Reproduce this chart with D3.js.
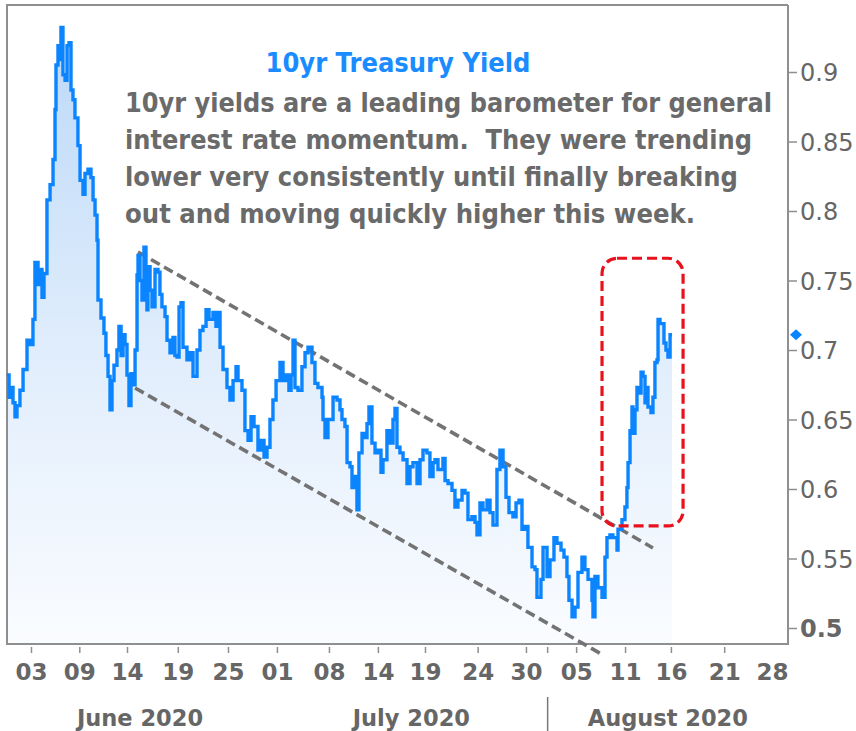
<!DOCTYPE html>
<html><head><meta charset="utf-8">
<script src="https://cdn.jsdelivr.net/npm/d3@7"></script>
<style>html,body{margin:0;padding:0;background:#fff;overflow:hidden}</style>
</head><body><svg id="chart" width="856" height="731"></svg>
<script>
// trading-session position (0 = June 1, 2020) and 10yr yield
const sessionDay=[0.06,0.23,0.39,0.55,0.71,0.87,1.11,1.36,1.68,1.92,2.16,2.32,2.57,2.73,2.89,3.05,3.29,3.54,3.78,3.94,4.02,4.18,4.34,4.42,4.58,4.75,4.91,5.07,5.23,5.39,5.55,5.79,5.96,6.20,6.36,6.60,6.84,7.01,7.17,7.33,7.41,7.65,7.89,8.05,8.22,8.38,8.54,8.70,8.94,9.10,9.27,9.43,9.59,9.75,9.91,10.07,10.23,10.40,10.56,10.64,10.80,10.96,11.12,11.28,11.36,11.44,11.61,11.77,12.01,12.25,12.41,12.57,12.82,12.98,13.22,13.46,13.62,13.79,13.95,14.11,14.27,14.59,14.83,15.08,15.40,15.64,15.88,16.13,16.37,16.69,16.93,17.09,17.26,17.50,17.82,18.06,18.31,18.55,18.71,19.03,19.27,19.52,19.76,20.00,20.32,20.56,20.81,21.05,21.29,21.53,21.78,22.10,22.34,22.58,22.82,22.99,23.15,23.31,23.55,23.87,24.12,24.36,24.68,24.92,25.16,25.49,25.57,25.73,25.97,26.30,26.38,26.70,26.94,27.10,27.34,27.51,27.75,27.91,28.15,28.31,28.47,28.72,28.96,29.12,29.28,29.52,29.77,30.01,30.25,30.41,30.73,30.98,31.22,31.38,31.54,31.78,32.03,32.35,32.59,32.83,33.16,33.40,33.64,33.96,34.20,34.45,34.61,34.85,35.25,35.42,35.66,35.98,36.22,36.46,36.79,37.03,37.27,37.59,37.84,38.00,38.24,38.48,38.81,39.05,39.29,39.61,39.85,40.10,40.34,40.58,40.90,41.15,41.39,41.63,41.87,42.11,42.44,42.68,42.84,43.16,43.33,43.65,43.89,44.21,44.45,44.78,45.02,45.26,45.42,45.67,45.91,46.15,46.47,46.71,46.96,47.28,47.36,47.52,47.76,48.09,48.33,48.49,48.73,48.97,49.30,49.38,49.70,49.94,50.10,50.19,50.35,50.51,50.59,50.75,50.91,50.99,51.24,51.40,51.56,51.72,51.80,52.04,52.20,52.36,52.53,52.61,52.77,52.93,53.09,53.25,53.41,53.58,53.74];
const yield10=[0.682,0.666,0.673,0.662,0.652,0.660,0.671,0.686,0.707,0.704,0.722,0.763,0.747,0.758,0.738,0.755,0.808,0.819,0.837,0.873,0.905,0.919,0.909,0.932,0.898,0.894,0.919,0.921,0.887,0.880,0.867,0.847,0.822,0.812,0.827,0.830,0.824,0.808,0.797,0.779,0.736,0.723,0.712,0.696,0.681,0.657,0.678,0.689,0.700,0.717,0.696,0.711,0.704,0.682,0.660,0.683,0.675,0.700,0.754,0.768,0.750,0.736,0.774,0.736,0.729,0.760,0.743,0.731,0.758,0.756,0.740,0.731,0.724,0.707,0.698,0.709,0.696,0.695,0.731,0.734,0.702,0.693,0.698,0.681,0.700,0.714,0.717,0.729,0.722,0.727,0.717,0.727,0.702,0.686,0.673,0.664,0.678,0.688,0.678,0.671,0.642,0.635,0.652,0.645,0.628,0.635,0.623,0.630,0.650,0.664,0.678,0.691,0.678,0.682,0.671,0.682,0.707,0.673,0.671,0.688,0.698,0.702,0.691,0.676,0.673,0.666,0.650,0.637,0.650,0.650,0.666,0.664,0.657,0.650,0.645,0.619,0.616,0.601,0.609,0.585,0.626,0.640,0.637,0.647,0.659,0.633,0.626,0.628,0.612,0.621,0.642,0.633,0.650,0.658,0.630,0.626,0.621,0.604,0.616,0.619,0.604,0.621,0.628,0.626,0.609,0.619,0.621,0.614,0.622,0.606,0.604,0.599,0.587,0.592,0.599,0.597,0.578,0.580,0.576,0.567,0.590,0.585,0.592,0.583,0.574,0.614,0.628,0.616,0.594,0.583,0.580,0.590,0.592,0.571,0.573,0.558,0.544,0.542,0.522,0.535,0.558,0.537,0.549,0.565,0.561,0.556,0.551,0.537,0.520,0.508,0.515,0.540,0.551,0.542,0.535,0.520,0.508,0.537,0.529,0.522,0.551,0.565,0.567,0.565,0.556,0.571,0.578,0.587,0.601,0.619,0.642,0.659,0.640,0.657,0.673,0.669,0.684,0.681,0.662,0.673,0.659,0.655,0.666,0.691,0.693,0.722,0.719,0.719,0.705,0.700,0.695,0.711,0.711];

const xTickDays=[2,5.9,9.75,13.85,17.9,21.85,26.05,30,33.8,38.05,41.95,46,49.95,53.65,57.95,63.1];
const xTickLabels=["03","09","14","19","25","01","08","14","19","24","30","05","11","16","21","28"];
const yTicks=[0.5,0.55,0.6,0.65,0.7,0.75,0.8,0.85,0.9];
const monthLabels=["June 2020","July 2020","August 2020"];
const monthCenterDays=[10.8,32.7,53.4];
const monthBreakDays=[43.7];
const upperChannel=[[10.64,0.7705],[52.20,0.5576]];
const lowerChannel=[[10.40,0.6727],[48.17,0.4806]];
const breakoutBox=[[48.09,0.766],[54.63,0.5734]];
const titleText="10yr Treasury Yield";
const noteLines=["10yr yields are a leading barometer for general","interest rate momentum.  They were trending","lower very consistently until finally breaking","out and moving quickly higher this week."];
const noteWidths=[647,627,613,570];

const FONT='Tahoma,"DejaVu Sans",sans-serif';
const svg=d3.select("#chart");
const plot={left:7,right:788,top:5,bottom:644};
const x=d3.scaleLinear().domain([0,63.1]).range([6.2,788]);
const y=d3.scaleLinear().domain([0.5,0.9]).range([628,72]);
const data=sessionDay.map((d,i)=>({d,v:yield10[i]}));

const defs=svg.append("defs");
const grad=defs.append("linearGradient").attr("id","fillGrad").attr("gradientUnits","userSpaceOnUse")
  .attr("x1",0).attr("x2",0).attr("y1",y(0.93)).attr("y2",plot.bottom);
grad.append("stop").attr("offset",0).attr("stop-color","#bcd9f8");
grad.append("stop").attr("offset",0.55).attr("stop-color","#e2eefc");
grad.append("stop").attr("offset",1).attr("stop-color","#fafcff");

svg.append("path").datum(data)
  .attr("d",d3.area().curve(d3.curveStepAfter).x(p=>x(p.d)).y0(plot.bottom).y1(p=>y(p.v)))
  .attr("fill","url(#fillGrad)");

svg.append("path")
  .attr("d",`M${plot.right},${plot.top}H${plot.left}V${plot.bottom}H${plot.right}V${plot.top}`)
  .attr("fill","none").attr("stroke","#8f8f8f").attr("stroke-width",2);

[upperChannel,lowerChannel].forEach(c=>{
  svg.append("line").attr("x1",x(c[0][0])).attr("y1",y(c[0][1])).attr("x2",x(c[1][0])).attr("y2",y(c[1][1]))
    .attr("stroke","#737373").attr("stroke-width",3.6).attr("stroke-dasharray","10,5");
});

svg.append("path").datum(data)
  .attr("d",d3.line().curve(d3.curveStepAfter).x(p=>x(p.d)).y(p=>y(p.v)))
  .attr("fill","none").attr("stroke","#0a84ff").attr("stroke-width",3.4).attr("stroke-linejoin","miter");

svg.append("rect")
  .attr("x",x(breakoutBox[0][0])).attr("y",y(breakoutBox[0][1]))
  .attr("width",x(breakoutBox[1][0])-x(breakoutBox[0][0]))
  .attr("height",y(breakoutBox[1][1])-y(breakoutBox[0][1]))
  .attr("rx",15).attr("fill","none").attr("stroke","#e8121c").attr("stroke-width",3.2).attr("stroke-dasharray","10,5");

const yAxis=svg.append("g").attr("transform",`translate(${plot.right},0)`)
  .call(d3.axisRight(y).tickValues(yTicks).tickSize(9).tickPadding(3).tickFormat(d3.format(".2~f")));
yAxis.select(".domain").remove();
yAxis.selectAll(".tick line").attr("stroke","#8f8f8f").attr("stroke-width",1.5);
yAxis.selectAll(".tick text").attr("fill","#666").attr("font-family",FONT).attr("font-size",24)
  .attr("font-weight",d=>d===0.5?"bold":"normal").attr("dy","0.36em");

const xAxis=svg.append("g").attr("transform",`translate(0,647)`)
  .call(d3.axisBottom(x).tickValues(xTickDays).tickSize(6).tickPadding(11).tickFormat((d,i)=>xTickLabels[i]));
xAxis.select(".domain").remove();
xAxis.selectAll(".tick line").attr("stroke","#8f8f8f").attr("stroke-width",1.5)
  .attr("opacity",(d,i)=>i===xTickDays.length-1?0:1);
xAxis.selectAll(".tick text").attr("fill","#666").attr("font-family",FONT).attr("font-size",23).attr("font-weight","bold")
  .attr("text-anchor",(d,i)=>i===xTickDays.length-1?"end":"middle");

monthBreakDays.forEach(d=>{
  svg.append("line").attr("x1",x(d)).attr("x2",x(d)).attr("y1",647).attr("y2",653).attr("stroke","#8f8f8f").attr("stroke-width",1.5);
  svg.append("line").attr("x1",x(d)).attr("x2",x(d)).attr("y1",697).attr("y2",731).attr("stroke","#777").attr("stroke-width",1.5);
});
svg.selectAll(".month").data(monthLabels).enter().append("text")
  .attr("x",(d,i)=>x(monthCenterDays[i])).attr("y",726).attr("text-anchor","middle")
  .attr("fill","#666").attr("font-family",FONT).attr("font-size",22.5).attr("font-weight","bold").text(d=>d);

svg.append("path").attr("d","M-6,0L0,-5.5L6,0L0,5.5Z")
  .attr("transform",`translate(${plot.right+8},${y(yield10[yield10.length-1])})`).attr("fill","#0a84ff");

svg.append("text").attr("x",398).attr("y",72).attr("text-anchor","middle")
  .attr("fill","#1a8cff").attr("font-family",FONT).attr("font-size",26).attr("font-weight","bold")
  .attr("textLength",265).attr("lengthAdjust","spacingAndGlyphs").text(titleText);
noteLines.forEach((t,i)=>{
  svg.append("text").attr("x",125).attr("y",112+i*37).style("white-space","pre")
    .attr("fill","#6a6a6a").attr("font-family",FONT).attr("font-size",26).attr("font-weight","bold")
    .attr("textLength",noteWidths[i]).attr("lengthAdjust","spacingAndGlyphs").text(t);
});
</script></body></html>
